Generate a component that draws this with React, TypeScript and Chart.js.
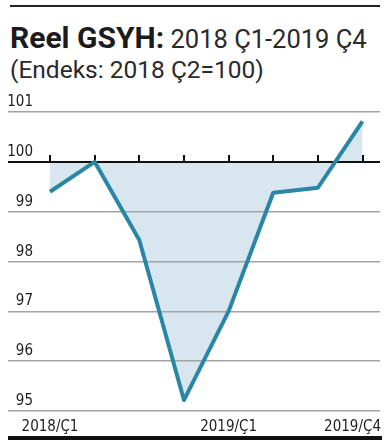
import React, { useEffect, useRef } from "react";
import { Chart, registerables } from "chart.js";

Chart.register(...registerables);

// ---- Data ----
const quarters = ["2018/Ç1", "2018/Ç2", "2018/Ç3", "2018/Ç4", "2019/Ç1", "2019/Ç2", "2019/Ç3", "2019/Ç4"];
const gdpIndex = [99.4, 100.0, 98.43, 95.22, 97.0, 99.38, 99.48, 100.81];
const yTicks = [95, 96, 97, 98, 99, 100, 101];
const shownXLabels = [0, 4, 7];
const baseValue = 100;

const titleBold = "Reel GSYH:";
const titleRest = " 2018 Ç1-2019 Ç4";
const subtitle = "(Endeks: 2018 Ç2=100)";

const LINE_COLOR = "#2a86a6";
const FILL_COLOR = "#d8e7ef";
const GRID_COLOR = "#a3a3a3";
const INK = "#1e1e1e";
const LABEL_FONT = '"Liberation Sans Narrow", "DejaVu Sans Condensed", sans-serif';

const decorPlugin = {
  id: "decor",
  beforeDatasetsDraw(chart: any) {
    const { ctx, scales } = chart;
    const x = scales.x;
    const y = scales.y;
    const by = Math.round(y.getPixelForValue(baseValue));
    ctx.save();
    ctx.strokeStyle = "#111";
    ctx.lineWidth = 2;
    quarters.forEach((_, i) => {
      const px = Math.round(x.getPixelForValue(i));
      ctx.beginPath();
      ctx.moveTo(px, by - 7);
      ctx.lineTo(px, by);
      ctx.stroke();
    });
    ctx.restore();
  },
  afterDraw(chart: any) {
    const { ctx, scales, chartArea } = chart;
    const x = scales.x;
    const y = scales.y;
    ctx.save();
    ctx.fillStyle = INK;
    // y labels
    ctx.font = `15px ${LABEL_FONT}`;
    ctx.textAlign = "right";
    ctx.textBaseline = "alphabetic";
    yTicks.forEach((v) => {
      const py = y.getPixelForValue(v);
      ctx.fillText(String(v), 33, py - 6);
    });
    // x labels
    ctx.font = `15px ${LABEL_FONT}`;
    ctx.textAlign = "center";
    shownXLabels.forEach((i) => {
      const txt = quarters[i];
      const w = ctx.measureText(txt).width;
      let cx = x.getPixelForValue(i);
      const maxRight = chartArea.right + 1;
      if (cx + w / 2 > maxRight) cx = maxRight - w / 2;
      ctx.fillText(txt, cx, chartArea.bottom + 19.5);
    });
    ctx.restore();
  },
};

export default function App() {
  const canvasRef = useRef<HTMLCanvasElement | null>(null);

  useEffect(() => {
    const canvas = canvasRef.current;
    if (!canvas) return;
    const chart = new Chart(canvas, {
      type: "line",
      data: {
        datasets: [
          {
            data: gdpIndex.map((v, i) => ({ x: i, y: v })),
            borderColor: LINE_COLOR,
            borderWidth: 4,
            backgroundColor: FILL_COLOR,
            fill: { value: baseValue },
            pointRadius: 0,
            tension: 0,
            borderJoinStyle: "round",
            borderCapStyle: "butt",
          },
        ],
      },
      options: {
        animation: false,
        responsive: false,
        devicePixelRatio: 1,
        layout: { padding: { left: 8, right: 10, top: 112, bottom: 29 } },
        plugins: {
          legend: { display: false },
          tooltip: { enabled: false },
          filler: { drawTime: "beforeDraw" },
        },
        scales: {
          x: {
            type: "linear",
            display: false,
            min: -0.941,
            max: 7.392,
          },
          y: {
            type: "linear",
            min: 95,
            max: 101,
            afterBuildTicks: (scale: any) => {
              scale.ticks = yTicks.map((v) => ({ value: v }));
            },
            ticks: { display: false },
            border: { display: false },
            grid: {
              drawTicks: false,
              color: (c: any) => (c.tick && c.tick.value === baseValue ? "#111" : GRID_COLOR),
              lineWidth: (c: any) => (c.tick && c.tick.value === baseValue ? 2 : 1.5),
            },
          },
        },
      },
      plugins: [decorPlugin],
    } as any);
    return () => chart.destroy();
  }, []);

  const font = 'Roboto, "Noto Sans", sans-serif';
  return (
    <div style={{ position: "absolute", left: 0, top: 0, width: 390, height: 440, overflow: "hidden", background: "#fff" }}>
      <div style={{ position: "absolute", left: 10, top: 5, width: 370, height: 2, background: "#222" }} />
      <div
        style={{
          position: "absolute",
          left: 10,
          top: 37.8,
          lineHeight: 0,
          fontFamily: font,
          fontSize: 25.5,
          color: "#2a2a2a",
          whiteSpace: "nowrap",
        }}
      >
        <span style={{ fontWeight: 700, fontSize: 30, color: "#1b1b1b" }}>{titleBold}</span>
        <span>{titleRest}</span>
      </div>
      <div
        style={{
          position: "absolute",
          left: 10,
          top: 70.1,
          lineHeight: 0,
          fontFamily: font,
          fontSize: 24.5,
          color: "#2a2a2a",
          whiteSpace: "nowrap",
        }}
      >
        {subtitle}
      </div>
      <canvas ref={canvasRef} width={390} height={440} style={{ position: "absolute", left: 0, top: 0 }} />
      <div style={{ position: "absolute", left: 8, top: 436, width: 374, height: 5, background: "#111" }} />
    </div>
  );
}
